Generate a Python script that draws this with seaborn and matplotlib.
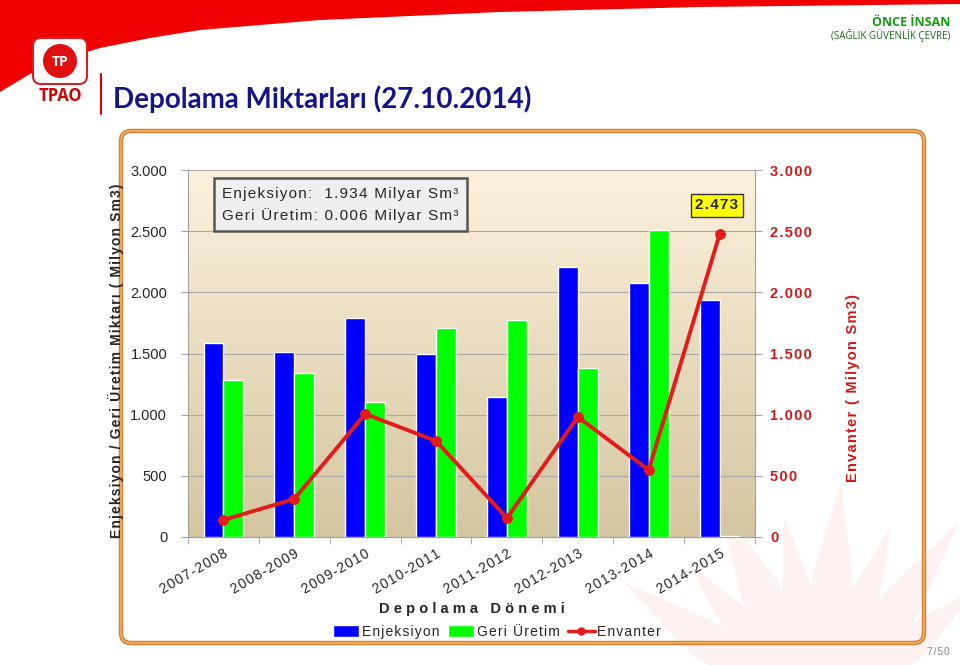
import numpy as np
import pandas as pd
import matplotlib
matplotlib.use("Agg")
import matplotlib.pyplot as plt
import seaborn as sns
from matplotlib.patches import FancyBboxPatch, Patch, Circle
from matplotlib.lines import Line2D
from matplotlib.ticker import FuncFormatter, MultipleLocator

# data (Milyon Sm3)
donemler = ["2007-2008", "2008-2009", "2009-2010", "2010-2011",
            "2011-2012", "2012-2013", "2013-2014", "2014-2015"]
enjeksiyon = [1586, 1513, 1791, 1496, 1145, 2208, 2077, 1934]
geri_uretim = [1284, 1341, 1104, 1709, 1774, 1382, 2510, 6]
envanter = [139, 311, 1006, 785, 155, 981, 548, 2473]

df = pd.DataFrame({
    "donem": donemler * 2,
    "miktar": enjeksiyon + geri_uretim,
    "tip": ["Enjeksiyon"] * len(donemler) + ["Geri Üretim"] * len(donemler),
})

sns.set_style("white")
plt.rcParams["font.family"] = ["Liberation Sans", "DejaVu Sans"]


def spaced(s):
    # wide letter spacing like the original slide
    return "\u200a".join(s)


def fmt(v, p=None):
    return f"{int(v):,}".replace(",", ".")


W, H = 960, 665
fig = plt.figure(figsize=(9.6, 6.65), dpi=100)

# background layer in pixel coords (slide decoration)
bg = fig.add_axes([0, 0, 1, 1], zorder=-5)
bg.set_xlim(0, W)
bg.set_ylim(H, 0)
bg.axis("off")

# red swoosh at top
sx = np.array([0, 20, 40, 70, 100, 150, 200, 320, 500, 700, 960])
sy = np.array([92, 80, 68, 57, 48, 38, 30, 20, 12, 7, 4])
bg.fill_between(sx, 0, sy, color="#f00000", lw=0)

# faint flame watermark (bottom right)
cx, cy = 820, 720
for ang in np.linspace(40, 145, 8):
    a = np.radians(ang)
    r = 240 if int(ang) % 2 else 205
    tip = (cx + r * np.cos(a), cy - r * np.sin(a))
    b1 = (cx + 40 * np.cos(a + 0.35), cy - 40 * np.sin(a + 0.35))
    b2 = (cx + 40 * np.cos(a - 0.35), cy - 40 * np.sin(a - 0.35))
    m1 = (cx + r * 0.6 * np.cos(a + 0.14), cy - r * 0.6 * np.sin(a + 0.14))
    m2 = (cx + r * 0.6 * np.cos(a - 0.14), cy - r * 0.6 * np.sin(a - 0.14))
    bg.fill([b1[0], m1[0], tip[0], m2[0], b2[0]], [b1[1], m1[1], tip[1], m2[1], b2[1]],
            color="#fdf1f1", lw=0)

# logo
bg.add_patch(FancyBboxPatch((33, 38), 54, 46, boxstyle="round,pad=0,rounding_size=8",
                            fc="white", ec="#d42020", lw=1.5))
bg.add_patch(Circle((60, 61), 17, fc="#e01010", ec="none"))
bg.text(60, 62, "TP", color="white", fontsize=10, fontweight="bold",
        ha="center", va="center", family="Open Sans")
bg.text(60, 96, "TPAO", color="#d40000", fontsize=12, fontweight="bold",
        ha="center", va="center", family="Open Sans")
bg.plot([101, 101], [74, 114], color="#e00000", lw=1.5)

bg.text(113, 99, "Depolama Miktarları (27.10.2014)", color="#14148c", fontsize=20,
        fontweight="bold", ha="left", va="center", family="Lato")
bg.text(950, 23, "ÖNCE İNSAN", color="#129a12", fontsize=9, fontweight="bold",
        ha="right", va="center", family="Open Sans")
bg.text(950, 36, "(SAĞLIK GÜVENLİK ÇEVRE)", color="#1a6a1a", fontsize=7,
        ha="right", va="center", family="Open Sans")

# orange frame
bg.add_patch(FancyBboxPatch((121, 131), 803, 512, boxstyle="round,pad=0,rounding_size=10",
                            fc="none", ec="#d9822b", lw=3.2))
bg.add_patch(FancyBboxPatch((121, 131), 803, 512, boxstyle="round,pad=0,rounding_size=10",
                            fc="none", ec="#f4c890", lw=0.8))
bg.text(950, 652, spaced("7/50"), color="#888888", fontsize=7.5, ha="right", va="center")

# main chart
ax = fig.add_axes([188 / W, 1 - 537 / H, (755 - 188) / W, (537 - 170) / H])
grad = np.linspace(0, 1, 256).reshape(-1, 1, 1)
top_c = np.array([253, 241, 221]) / 255
bot_c = np.array([212, 198, 160]) / 255
img = top_c + (bot_c - top_c) * grad * np.ones((1, 1, 3))
ax.imshow(img, extent=[-0.5, 7.5, 0, 3000], origin="upper", aspect="auto", zorder=0)

sns.barplot(data=df, x="donem", y="miktar", hue="tip", ax=ax,
            palette={"Enjeksiyon": "#0000ff", "Geri Üretim": "#00ff00"},
            width=0.56, saturation=1, legend=False, zorder=3)
ax.set_xlim(-0.5, 7.5)
ax.set_ylim(0, 3000)
ax.yaxis.set_major_locator(MultipleLocator(500))
ax.yaxis.set_major_formatter(FuncFormatter(fmt))
ax.grid(axis="y", color="#a8a8a8", lw=0.8, zorder=1)
ax.set_axisbelow(False)
for s in ["top", "right"]:
    ax.spines[s].set_visible(False)
ax.spines["left"].set_color("#a0a0a0")
ax.spines["bottom"].set_color("#a0a0a0")
ax.tick_params(axis="y", length=5, color="#a0a0a0", labelsize=10.5, pad=10, left=True)
ax.set_xticks(np.arange(8))
ax.set_xticklabels([spaced(d) for d in donemler], rotation=30, ha="right",
                   rotation_mode="anchor", fontsize=10)
ax.tick_params(axis="x", length=0, pad=7)
ax.set_xticks(np.arange(-0.5, 8, 1), minor=True)
ax.tick_params(axis="x", which="minor", length=5, color="#a0a0a0", bottom=True)
ax.set_xlabel("D e p o l a m a   D ö n e m i", fontsize=10.5, fontweight="bold", labelpad=4)
ax.set_ylabel(spaced("Enjeksiyon / Geri Üretim Miktarı ( Milyon Sm3)"), fontsize=10,
              fontweight="bold")
ax.yaxis.set_label_coords(-0.112, 0.48)

ax2 = ax.twinx()
sns.lineplot(x=np.arange(len(envanter)), y=envanter, ax=ax2, color="#e31b1b",
             lw=2.8, marker="o", markersize=7, markeredgecolor="#e31b1b", zorder=5)
ax2.set_ylim(0, 3000)
ax2.yaxis.set_major_locator(MultipleLocator(500))
ax2.yaxis.set_major_formatter(FuncFormatter(lambda v, p: spaced(fmt(v))))
for s in ["top", "left", "bottom"]:
    ax2.spines[s].set_visible(False)
ax2.spines["right"].set_color("#a0a0a0")
ax2.tick_params(axis="y", length=5, color="#a0a0a0", labelsize=10.5, labelcolor="#d01818",
                pad=6, right=True)
for t in ax2.get_yticklabels():
    t.set_fontweight("bold")
ax2.set_ylabel(spaced("Envanter ( Milyon Sm3)"), color="#d01818", fontsize=10.5,
               fontweight="bold")
ax2.yaxis.set_label_coords(1.16, 0.406)

ax2.annotate(spaced(f"{envanter[-1] / 1000:.3f}"), xy=(7, envanter[-1]), xytext=(-2, 21),
             textcoords="offset points", ha="center", va="center", fontsize=11,
             fontweight="bold",
             bbox=dict(boxstyle="square,pad=0.3", fc="#ffff00", ec="#333333", lw=1))

ax2.text(0.06, 0.955,
         spaced("Enjeksiyon:  1.934 Milyar Sm³") + "\n" + spaced("Geri Üretim: 0.006 Milyar Sm³"),
         transform=ax2.transAxes, ha="left", va="top", fontsize=11, linespacing=1.6,
         bbox=dict(boxstyle="square,pad=0.55", fc="#efefef", ec="#555555", lw=1.8))

handles = [Patch(fc="#0000ff"), Patch(fc="#00ff00"),
           Line2D([], [], color="#e31b1b", lw=2.5, marker="o", markersize=5)]
fig.legend(handles, [spaced("Enjeksiyon"), spaced("Geri Üretim"), spaced("Envanter")],
           loc="center", bbox_to_anchor=(497 / W, 1 - 632 / H), ncol=3, frameon=False,
           fontsize=10, handlelength=1.9, handleheight=0.9, columnspacing=0.6,
           handletextpad=0.2)

fig.savefig("out.png", dpi=100)
